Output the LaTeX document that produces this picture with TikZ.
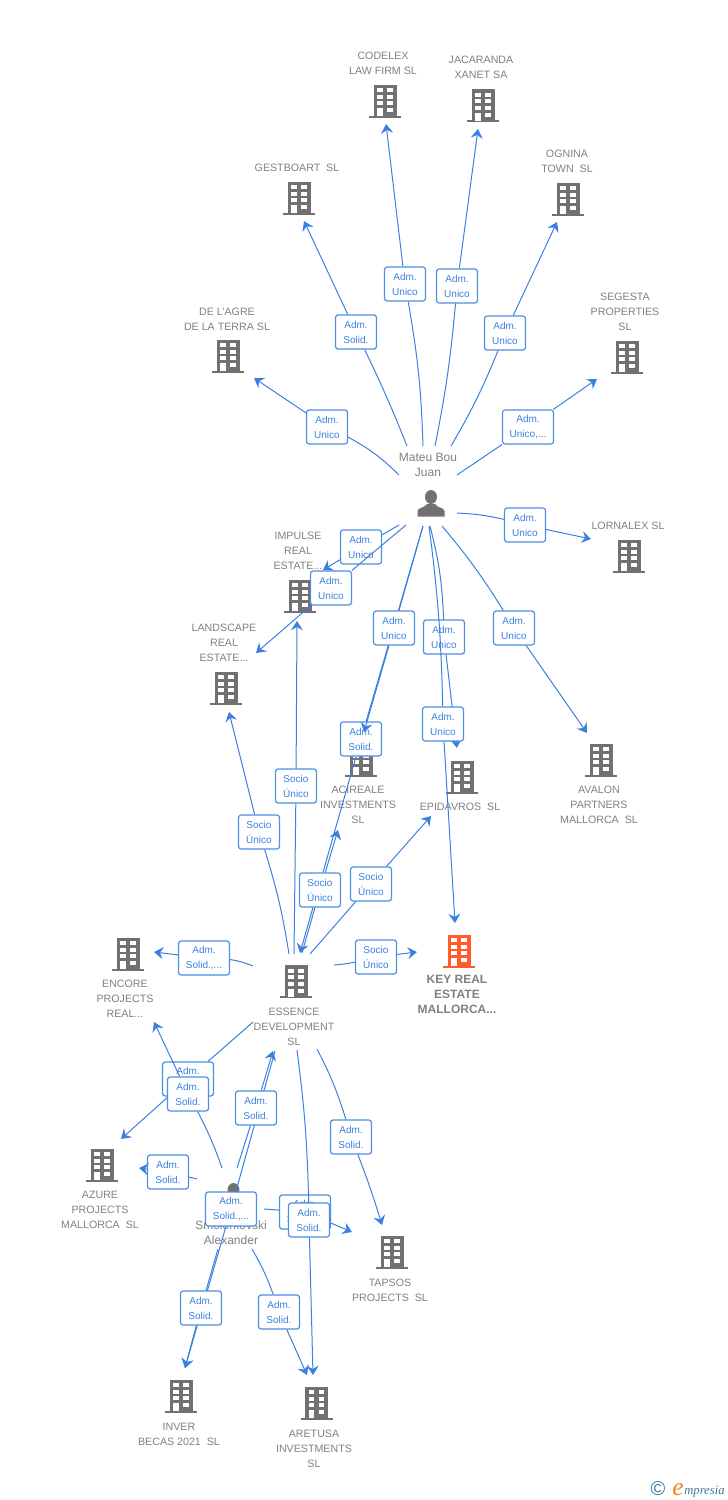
\documentclass[tikz,border=0pt]{standalone}
\usepackage{fontspec}
\setmainfont{Liberation Sans}
\newfontfamily\logofont{Liberation Serif}
\usetikzlibrary{arrows.meta}
\definecolor{linkblue}{HTML}{3B80E0}
\definecolor{boxblue}{HTML}{4C8FE3}
\definecolor{firmgrey}{HTML}{717171}
\definecolor{textgrey}{HTML}{808080}
\definecolor{keyorange}{HTML}{FF5B2B}
\definecolor{logoblue}{HTML}{3F7596}
\definecolor{logoorange}{HTML}{F58220}
\tikzset{
  pics/building/.style={code={
    \fill[#1] (-16,14.5) rectangle (16,16.5);
    \fill[#1] (-11.5,-16.5) rectangle (11.5,15);
    \foreach \rowy in {-13,-6.3,0.4} {
      \fill[white] (-7.9,\rowy) rectangle (-2.5,\rowy+4);
      \fill[white] (2.1,\rowy) rectangle (7.5,\rowy+4);
    }
    \fill[white] (-7.9,7.1) rectangle (-2.5,15);
    \fill[white] (2.1,7.1) rectangle (7.5,11.1);
  }},
  pics/person/.style={code={
    \fill[firmgrey] (0,-7) ellipse (6 and 7);
    \fill[firmgrey] (-13.5,12.5) -- (-13.5,7) .. controls (-13.5,3.5) and (-6,4) .. (-4,0)
      -- (4,0) .. controls (6,4) and (13.5,3.5) .. (13.5,7) -- (13.5,12.5) -- cycle;
  }},
  firmtext/.style={text=textgrey,align=center,inner sep=0pt},
  firm/.style={firmtext,yshift=-0.75pt,font=\fontsize{8}{11.25}\selectfont},
  keyfirm/.style={firmtext,font=\fontsize{9}{11.25}\selectfont\bfseries},
  owner/.style={firmtext,font=\fontsize{9}{11.25}\selectfont},
  rel/.style={draw=boxblue,fill=white,line width=0.9pt,rounded corners=2pt,text=linkblue,
    font=\fontsize{7.5}{11.25}\selectfont,align=center,inner sep=0pt,
    minimum width=30.75pt,minimum height=25.5pt},
  relwide/.style={rel,minimum width=38.25pt},
  link/.style={draw=linkblue,line width=0.75pt},
  arrow/.style={link,-{Stealth[length=7pt,width=9pt,inset=2.5pt]}}
}
\begin{document}
\begin{tikzpicture}[x=0.75pt,y=-0.75pt]
  \useasboundingbox (0,0) rectangle (728,1500);
  % buildings
  \pic (b_codelex) at (385,101) {building=firmgrey};
  \pic (b_jacaranda) at (483,105.5) {building=firmgrey};
  \pic (b_gestboart) at (299,198) {building=firmgrey};
  \pic (b_ognina) at (568,199) {building=firmgrey};
  \pic (b_agre) at (228,356) {building=firmgrey};
  \pic (b_segesta) at (627,357) {building=firmgrey};
  \pic (b_lornalex) at (629,556) {building=firmgrey};
  \pic (b_impulse) at (300,596) {building=firmgrey};
  \pic (b_landscape) at (226,688) {building=firmgrey};
  \pic (b_acireale) at (361,760) {building=firmgrey};
  \pic (b_epidavros) at (462,777) {building=firmgrey};
  \pic (b_avalon) at (601,760) {building=firmgrey};
  \pic (b_key) at (459,951) {building=keyorange};
  \pic (b_encore) at (128,954) {building=firmgrey};
  \pic (b_essence) at (296,981.5) {building=firmgrey};
  \pic (b_azure) at (102,1165) {building=firmgrey};
  \pic (b_tapsos) at (392,1252) {building=firmgrey};
  \pic (b_inver) at (181,1396) {building=firmgrey};
  \pic (b_aretusa) at (316.5,1403) {building=firmgrey};
  \pic (p_mateu) at (431,504) {person};
  \pic (p_smol) at (233.5,1197) {person};
  % names
  \node[firm] (codelex) at (383,62.5) {CODELEX\\LAW FIRM SL};
  \node[firm] (jacaranda) at (481,66.5) {JACARANDA\\XANET SA};
  \node[firm] (gestboart) at (297,167) {GESTBOART\ \ SL};
  \node[firm] (ognina) at (567,160.5) {OGNINA\\TOWN\ \ SL};
  \node[firm] (agre) at (227,318.5) {DE L'AGRE\\DE LA TERRA SL};
  \node[firm] (segesta) at (625,311) {SEGESTA\\PROPERTIES\\SL};
  \node[firm] (lornalex) at (628,525) {LORNALEX SL};
  \node[firm] (impulse) at (298,550) {IMPULSE\\REAL\\ESTATE...};
  \node[firm] (landscape) at (224,642) {LANDSCAPE\\REAL\\ESTATE...};
  \node[firm] (acireale) at (358,804) {ACIREALE\\INVESTMENTS\\SL};
  \node[firm] (epidavros) at (460,806) {EPIDAVROS\ \ SL};
  \node[firm] (avalon) at (599,804) {AVALON\\PARTNERS\\MALLORCA\ \ SL};
  \node[keyfirm] (key) at (457,994) {KEY REAL\\ESTATE\\MALLORCA...};
  \node[firm] (encore) at (125,998) {ENCORE\\PROJECTS\\REAL...};
  \node[firm] (essence) at (294,1026) {ESSENCE\\DEVELOPMENT\\SL};
  \node[firm] (azure) at (100,1209) {AZURE\\PROJECTS\\MALLORCA\ \ SL};
  \node[firm] (tapsos) at (390,1289.5) {TAPSOS\\PROJECTS\ \ SL};
  \node[firm] (inver) at (179,1433.5) {INVER\\BECAS 2021\ \ SL};
  \node[firm] (aretusa) at (314,1448) {ARETUSA\\INVESTMENTS\\SL};
  \node[owner] (mateu) at (428,464.5) {Mateu Bou\\Juan};
  \node[owner] (smol) at (231,1232.5) {Smolorkovski\\Alexander};
  % free ends of the links
  \foreach \pname/\px/\py in {
      s_agre/399/475, e_agre/254/378, s_gestboart/407/446, e_gestboart/304/221,
      s_codelex/423/446, e_codelex/386/124, s_jacaranda/435/446, e_jacaranda/478/129,
      s_ognina/451/446, e_ognina/557/222, s_segesta/457/475, e_segesta/597/379,
      s_lornalex/457/513, e_lornalex/591/539, s_impulse/399/525, e_impulse/323/570,
      s_landscape/406/525, e_landscape/256/653, s_essence/423/526, e_essence/300/953,
      s_acireale/423/526, e_acireale/364/732, s_epidavros/430/526, e_epidavros/457/748,
      s_key/429/526, e_key/455/923, s_avalon/442/526, e_avalon/587/733,
      f_landscape/289/954, t_landscape/229/712, f_impulse/294/954, t_impulse/297/621,
      f_acireale/302/953, t_acireale/338/830, f_epidavros/310/954, t_epidavros/431/816,
      f_key/334/965, t_key/417/952, f_encore/253/966, t_encore/154/952,
      f_azure/253/1022, t_azure/121/1139, f_tapsos/317/1049, t_tapsos/382/1225,
      f_aretusa/297/1050, t_aretusa/313/1375, f_inver/275/1051, t_inver/185/1368,
      m_encore/222/1168, n_encore/154/1022, m_essence/237/1168, n_essence/273/1051,
      m_azure/197/1179, n_azure/139/1168, m_tapsos/264/1209, n_tapsos/352/1232,
      m_aretusa/252/1249, n_aretusa/307/1375, m_inver/218/1249, n_inver/185/1368}
    \coordinate (\pname) at (\px,\py);
  % Mateu Bou Juan
  \node[rel] (r_agre) at (327,427) {Adm.\\Unico};
  \draw[link] (s_agre) to[bend right=8] (r_agre);
  \draw[arrow] (r_agre) -- (e_agre);
  \node[rel] (r_gestboart) at (356,332) {Adm.\\Solid.};
  \draw[link] (s_gestboart) to[bend right=2] (r_gestboart);
  \draw[arrow] (r_gestboart) -- (e_gestboart);
  \node[rel] (r_codelex) at (405,284) {Adm.\\Unico};
  \draw[link] (s_codelex) to[bend right=4] (r_codelex);
  \draw[arrow] (r_codelex) -- (e_codelex);
  \node[rel] (r_jacaranda) at (457,286) {Adm.\\Unico};
  \draw[link] (s_jacaranda) to[bend right=3] (r_jacaranda);
  \draw[arrow] (r_jacaranda) -- (e_jacaranda);
  \node[rel] (r_ognina) at (505,333) {Adm.\\Unico};
  \draw[link] (s_ognina) to[bend right=4] (r_ognina);
  \draw[arrow] (r_ognina) -- (e_ognina);
  \node[relwide] (r_segesta) at (528,427) {Adm.\\Unico,...};
  \draw[link] (s_segesta) -- (r_segesta);
  \draw[arrow] (r_segesta) -- (e_segesta);
  \node[rel] (r_lornalex) at (525,525) {Adm.\\Unico};
  \draw[link] (s_lornalex) to[bend left=5] (r_lornalex);
  \draw[arrow] (r_lornalex) -- (e_lornalex);
  \node[rel] (r_impulse) at (361,547) {Adm.\\Unico};
  \draw[link] (s_impulse) -- (r_impulse);
  \draw[arrow] (r_impulse) -- (e_impulse);
  \node[rel] (r_landscape) at (331,588) {Adm.\\Unico};
  \draw[link] (s_landscape) -- (r_landscape);
  \draw[arrow] (r_landscape) -- (e_landscape);
  \node[rel] (r_essence) at (361,739) {Adm.\\Solid.};
  \draw[link] (s_essence) -- (r_essence);
  \draw[arrow] (r_essence) -- (e_essence);
  \node[rel] (r_acireale) at (394,628) {Adm.\\Unico};
  \draw[link] (s_acireale) -- (r_acireale);
  \draw[arrow] (r_acireale) -- (e_acireale);
  \node[rel] (r_epidavros) at (444,637) {Adm.\\Unico};
  \draw[link] (s_epidavros) to[bend left=6] (r_epidavros);
  \draw[arrow] (r_epidavros) -- (e_epidavros);
  \node[rel] (r_key) at (443,724) {Adm.\\Unico};
  \draw[link] (s_key) to[bend left=3] (r_key);
  \draw[arrow] (r_key) -- (e_key);
  \node[rel] (r_avalon) at (514,628) {Adm.\\Unico};
  \draw[link] (s_avalon) to[bend left=4] (r_avalon);
  \draw[arrow] (r_avalon) -- (e_avalon);
  % ESSENCE DEVELOPMENT SL
  \node[rel] (q_landscape) at (259,832) {Socio\\Único};
  \draw[link] (f_landscape) to[bend right=4] (q_landscape);
  \draw[arrow] (q_landscape) -- (t_landscape);
  \node[rel] (q_impulse) at (296,786) {Socio\\Único};
  \draw[link] (f_impulse) -- (q_impulse);
  \draw[arrow] (q_impulse) -- (t_impulse);
  \node[rel] (q_acireale) at (320,890) {Socio\\Único};
  \draw[link] (f_acireale) -- (q_acireale);
  \draw[arrow] (q_acireale) -- (t_acireale);
  \node[rel] (q_epidavros) at (371,884) {Socio\\Único};
  \draw[link] (f_epidavros) -- (q_epidavros);
  \draw[arrow] (q_epidavros) -- (t_epidavros);
  \node[rel] (q_key) at (376,957) {Socio\\Único};
  \draw[link] (f_key) to[bend right=3] (q_key);
  \draw[arrow] (q_key) -- (t_key);
  \node[relwide] (q_encore) at (204,958) {Adm.\\Solid.,...};
  \draw[link] (f_encore) to[bend right=6] (q_encore);
  \draw[arrow] (q_encore) -- (t_encore);
  \node[relwide] (q_azure) at (188,1079) {Adm.\\Solid.,...};
  \draw[link] (f_azure) -- (q_azure);
  \draw[arrow] (q_azure) -- (t_azure);
  \node[rel] (q_tapsos) at (351,1137) {Adm.\\Solid.};
  \draw[link] (f_tapsos) to[bend left=5] (q_tapsos);
  \draw[arrow] (q_tapsos) to[bend left=2] (t_tapsos);
  \node[relwide] (q_inver) at (231,1209) {Adm.\\Solid.,...};
  \draw[link] (f_inver) -- (q_inver);
  \draw[arrow] (q_inver) -- (t_inver);
  % Smolorkovski Alexander
  \node[rel] (u_encore) at (188,1094) {Adm.\\Solid.};
  \draw[link] (m_encore) to[bend right=4] (u_encore);
  \draw[arrow] (u_encore) -- (n_encore);
  \node[rel] (u_essence) at (256,1108) {Adm.\\Solid.};
  \draw[link] (m_essence) -- (u_essence);
  \draw[arrow] (u_essence) -- (n_essence);
  \node[rel] (u_azure) at (168,1172) {Adm.\\Solid.};
  \draw[link] (m_azure) -- (u_azure);
  \draw[arrow] (u_azure) -- (n_azure);
  \node[relwide] (u_tapsos) at (305,1212) {Adm.\\Solid.,...};
  \draw[link] (m_tapsos) -- (u_tapsos);
  \draw[arrow] (u_tapsos) -- (n_tapsos);
  \node[rel] (q_aretusa) at (309,1220) {Adm.\\Solid.};
  \draw[link] (f_aretusa) to[bend left=3] (q_aretusa);
  \draw[arrow] (q_aretusa) -- (t_aretusa);
  \node[rel] (u_aretusa) at (279,1312) {Adm.\\Solid.};
  \draw[link] (m_aretusa) to[bend left=5] (u_aretusa);
  \draw[arrow] (u_aretusa) -- (n_aretusa);
  \node[rel] (u_inver) at (201,1308) {Adm.\\Solid.};
  \draw[link] (m_inver) -- (u_inver);
  \draw[arrow] (u_inver) -- (n_inver);
  % logo
  \node[text=logoblue,inner sep=0pt,font=\fontsize{15}{15}\selectfont] (logo_c) at (658,1489) {©};
  \node[text=logoorange,inner sep=0pt,anchor=base,font=\logofont\itshape\fontsize{19}{19}\selectfont] (logo_e) at (678,1495) {e};
  \node[text=logoblue,inner sep=0pt,anchor=base west,font=\logofont\itshape\fontsize{9.5}{10}\selectfont] (logo_t) at (684,1494) {mpresia};
\end{tikzpicture}
\end{document}
